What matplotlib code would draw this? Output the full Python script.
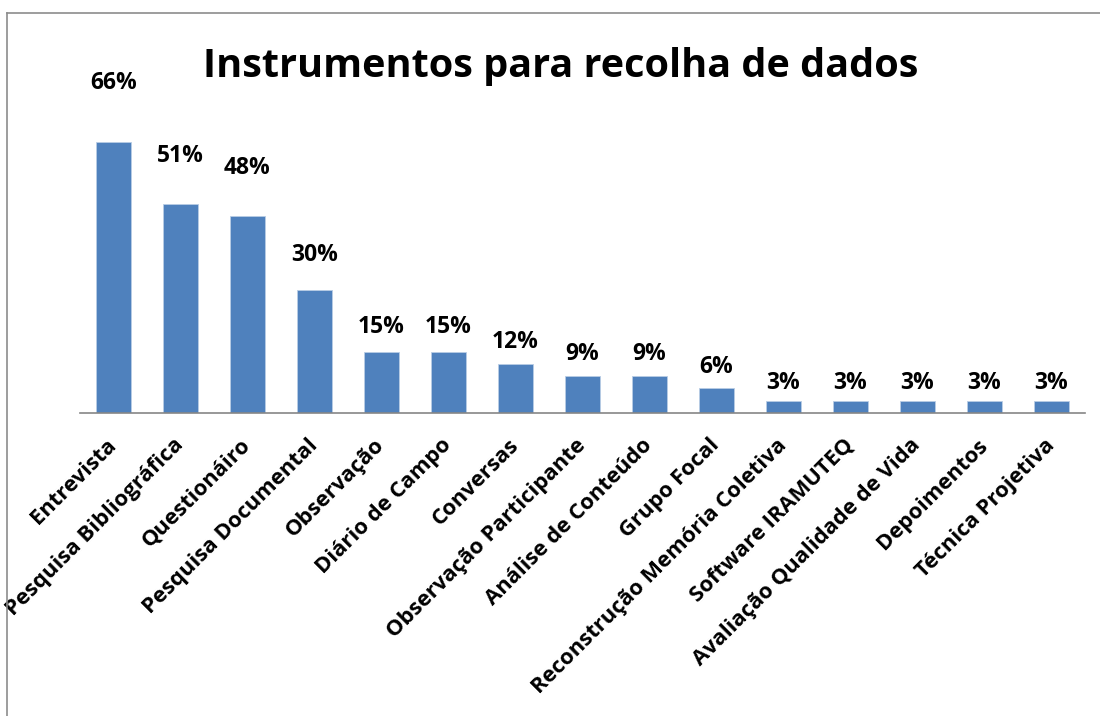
import matplotlib.pyplot as plt
from matplotlib.lines import Line2D

categorias = ['Entrevista', 'Pesquisa Bibliográfica', 'Questionáiro', 'Pesquisa Documental',
              'Observação', 'Diário de Campo', 'Conversas', 'Observação Participante',
              'Análise de Conteúdo', 'Grupo Focal', 'Reconstrução Memória Coletiva',
              'Software IRAMUTEQ', 'Avaliação Qualidade de Vida', 'Depoimentos',
              'Técnica Projetiva']
valores = [66, 51, 48, 30, 15, 15, 12, 9, 9, 6, 3, 3, 3, 3, 3]
rotulos = ['66%', '51%', '48%', '30%', '15%', '15%', '12%', '9%', '9%', '6%',
           '3%', '3%', '3%', '3%', '3%']
# distance from bar top to label centre, in points (labels were placed by hand)
deslocamento = [43, 34.6, 34.6, 25.2, 17.3, 17.3, 15.8, 15.8, 15.8, 15.1,
                13, 13, 13, 13, 13]

plt.rcParams['font.family'] = ['Open Sans', 'DejaVu Sans']

fig = plt.figure(figsize=(11, 7.16), dpi=100)
ax = fig.add_axes([80 / 1100, 303 / 716, 1005 / 1100, 287 / 716])

x = range(len(categorias))
ax.bar(x, valores, width=0.52, color='#4F81BD', edgecolor='#B9CDE5', linewidth=0.6)

for i, (v, r, d) in enumerate(zip(valores, rotulos, deslocamento)):
    ax.annotate(r, (i, v), xytext=(0, d), textcoords='offset points',
                ha='center', va='center', fontsize=16.5, fontweight='bold')

ax.set_xlim(-0.5, len(categorias) - 0.5)
ax.set_ylim(0, 70)
ax.set_xticks(list(x))
ax.set_xticklabels(categorias, rotation=45, ha='right', va='center',
                   rotation_mode='anchor', fontsize=15.8, fontweight='bold')
ax.tick_params(axis='x', length=0, pad=21)
ax.set_yticks([])
for lado in ['left', 'right', 'top']:
    ax.spines[lado].set_visible(False)
ax.spines['bottom'].set_color('#868686')
ax.spines['bottom'].set_linewidth(1.2)

fig.text(561 / 1100, 1 - 66 / 716, 'Instrumentos para recolha de dados',
         ha='center', va='center', fontsize=28.5, fontweight='bold')

# chart frame (only left and top edges are visible in the crop)
fig.add_artist(Line2D([7 / 1100, 7 / 1100], [0, 1 - 13 / 716], color='#8C8C8C', lw=1.2))
fig.add_artist(Line2D([7 / 1100, 1], [1 - 13 / 716, 1 - 13 / 716], color='#8C8C8C', lw=1.2))

fig.savefig('out.png', dpi=100)
